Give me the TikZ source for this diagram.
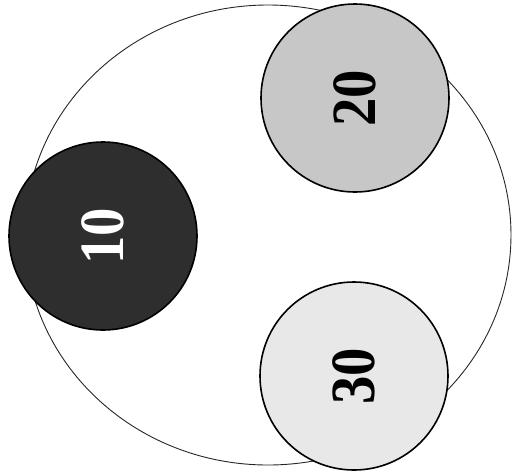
\documentclass[tikz,border=0pt]{standalone}
\usepackage{fontspec}
\usepackage{graphicx}
\setmainfont{Liberation Serif}
\begin{document}
\begin{tikzpicture}[x=1pt,y=-1pt,
  disc/.style={circle,draw=black,line width=1.6pt,minimum size=188pt,inner sep=0pt},
  lbl/.style={font=\fontsize{63}{63}\selectfont\bfseries,rotate=90}]
\useasboundingbox (0,0) rectangle (515,475);
\draw[line width=0.9pt,draw=black!85] (268,235) ellipse [x radius=243,y radius=230];
\node[disc,fill=black!82] (a) at (103,236) {};
\node[lbl,text=white] (ta) at (a.center) {\scalebox{0.9}[1]{10}};
\node[disc,fill=black!22] (b) at (355,98) {};
\node[lbl] (tb) at (b.center) {\scalebox{0.9}[1]{20}};
\node[disc,fill=black!9] (c) at (354,376) {};
\node[lbl] (tc) at (c.center) {\scalebox{0.9}[1]{30}};
\end{tikzpicture}
\end{document}
